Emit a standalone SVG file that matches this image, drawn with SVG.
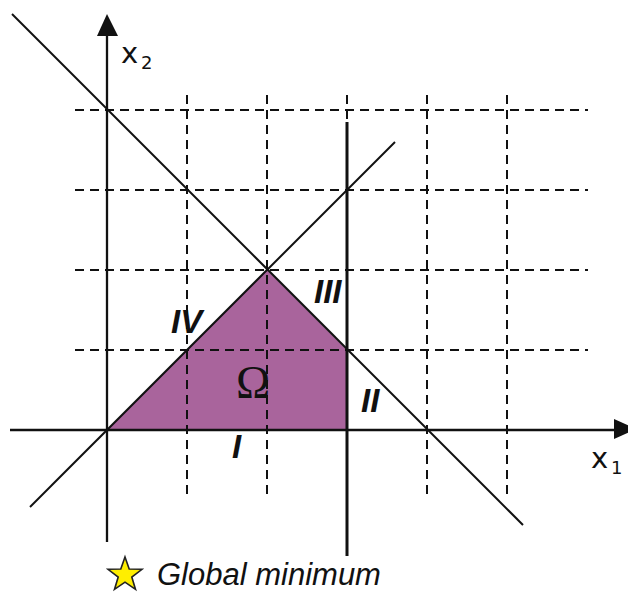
<svg xmlns="http://www.w3.org/2000/svg" width="628" height="592" viewBox="0 0 628 592">
<style>
.grid{stroke:#111;stroke-width:2;stroke-dasharray:9 6;fill:none}
.ln{stroke:#111;stroke-width:2;fill:none}
.lbl{font-family:"Liberation Sans",Arial,sans-serif;font-style:italic;font-weight:bold;font-size:33px;fill:#111}
.ax{font-family:"DejaVu Sans",sans-serif;font-size:29px;fill:#111}
.sub{font-family:"DejaVu Sans",sans-serif;font-size:18px;fill:#111}
</style>
<rect width="628" height="592" fill="#fff"/>
<g id="region">
<polygon points="107,430 267,270 347,350 347,430" fill="#a9649c"/>
</g>
<g id="grid">
<line class="grid" x1="75" y1="110" x2="588" y2="110"/>
<line class="grid" x1="75" y1="190" x2="588" y2="190"/>
<line class="grid" x1="75" y1="270" x2="588" y2="270"/>
<line class="grid" x1="75" y1="350" x2="588" y2="350"/>
<line class="grid" x1="187" y1="95" x2="187" y2="497"/>
<line class="grid" x1="267" y1="95" x2="267" y2="497"/>
<line class="grid" x1="347" y1="95" x2="347" y2="497"/>
<line class="grid" x1="427" y1="95" x2="427" y2="497"/>
<line class="grid" x1="507" y1="95" x2="507" y2="497"/>
</g>
<g id="connectors">
<line class="ln" x1="107" y1="34" x2="107" y2="542" style="stroke-width:2.3"/>
<polygon points="107,14 97,36 118,36" fill="#111"/>
<line class="ln" x1="10" y1="430" x2="616" y2="430" style="stroke-width:2.3"/>
<polygon points="636,429 614,419 614,439" fill="#111"/>
<line class="ln" x1="12" y1="14" x2="523" y2="525"/>
<line class="ln" x1="30" y1="507" x2="395" y2="142"/>
<line class="ln" x1="347" y1="122" x2="347" y2="556" style="stroke-width:3"/>
</g>
<g id="labels">
<text class="ax" x="121" y="63">x</text><text class="sub" x="141" y="69">2</text>
<text class="ax" x="591" y="468">x</text><text class="sub" x="611" y="474">1</text>
<text class="lbl" x="314" y="303">III</text>
<text class="lbl" x="171" y="333">IV</text>
<text class="lbl" x="361" y="412">II</text>
<text class="lbl" x="232" y="458">I</text>
<text x="236" y="398" style="font-family:'Liberation Serif','Times New Roman',serif;font-size:46px;fill:#111">Ω</text>
</g>
<g id="legend">
<polygon points="125,557 129.2,569 142,569.3 131.8,577.1 135.5,589.4 125,582.1 114.5,589.4 118.2,577.1 108,569.3 120.8,569" fill="#ffee00" stroke="#222" stroke-width="1.6"/>
<text x="157" y="585" style="font-family:'Liberation Sans',Arial,sans-serif;font-style:italic;font-size:31px;fill:#111">Global minimum</text>
</g>
</svg>
